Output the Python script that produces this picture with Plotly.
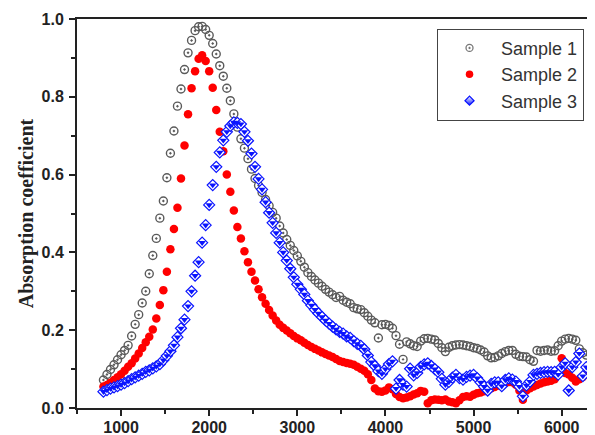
import plotly.graph_objects as go

wavelength = [
    800, 840, 880, 920, 960, 1000, 1040, 1080, 1120, 1160, 1200, 1240, 1280, 1320, 1360, 1400,
    1440, 1480, 1520, 1560, 1600, 1640, 1680, 1720, 1760, 1800, 1840, 1880, 1920, 1960, 2000, 2040,
    2080, 2120, 2160, 2200, 2240, 2280, 2320, 2360, 2400, 2440, 2480, 2520, 2560, 2600, 2640, 2680,
    2720, 2760, 2800, 2840, 2880, 2920, 2960, 3000, 3040, 3080, 3120, 3160, 3200, 3240, 3280, 3320,
    3360, 3400, 3440, 3480, 3520, 3560, 3600, 3640, 3680, 3720, 3760, 3800, 3840, 3880, 3920, 3960,
    4000, 4040, 4080, 4120, 4160, 4200, 4240, 4280, 4320, 4360, 4400, 4440, 4480, 4520, 4560, 4600,
    4640, 4680, 4720, 4760, 4800, 4840, 4880, 4920, 4960, 5000, 5040, 5080, 5120, 5160, 5200, 5240,
    5280, 5320, 5360, 5400, 5440, 5480, 5520, 5560, 5600, 5640, 5680, 5720, 5760, 5800, 5840, 5880,
    5920, 5960, 6000, 6040, 6080, 6120, 6160, 6200, 6240, 6280,
]

sample1 = [
    .072, .086, .099, .111, .124, .137, .148, .161, .185, .215, .240, .270, .300, .345, .392, .436,
    .488, .532, .592, .655, .712, .776, .820, .870, .913, .945, .970, .980, .981, .973, .958, .937,
    .910, .880, .853, .822, .790, .756, .722, .692, .668, .641, .614, .590, .572, .554, .536, .520,
    .503, .488, .468, .450, .433, .418, .405, .391, .377, .362, .348, .338, .329, .321, .313, .305,
    .298, .291, .284, .287, .277, .272, .268, .258, .255, .253, .245, .236, .226, .219, .180, .214,
    .215, .212, .205, .186, .164, .125, .170, .165, .160, .158, .172, .178, .179, .177, .175, .166,
    .155, .145, .156, .160, .162, .163, .162, .160, .158, .155, .153, .149, .144, .134, .129, .130,
    .134, .140, .145, .148, .148, .138, .133, .132, .131, .124, .120, .148, .146, .148, .149, .146,
    .147, .160, .172, .177, .179, .177, .174, .152, .142, .136,
]

sample2 = [
    .055, .059, .065, .072, .079, .087, .096, .106, .115, .127, .140, .154, .169, .183, .202, .230,
    .265, .303, .350, .408, .460, .515, .590, .675, .755, .822, .866, .898, .907, .892, .866, .823,
    .766, .710, .660, .600, .556, .508, .465, .436, .403, .375, .350, .328, .305, .285, .268, .252,
    .238, .225, .214, .206, .199, .192, .185, .179, .174, .168, .162, .157, .152, .148, .143, .139,
    .135, .131, .126, .121, .118, .116, .114, .111, .106, .101, .096, .087, .072, .050, .043, .042,
    .045, .053, .048, .036, .028, .025, .027, .030, .035, .038, .044, .042, .012, .020, .022, .021,
    .020, .022, .017, .015, .012, .020, .028, .030, .029, .034, .038, .040, .043, .048, .051, .054,
    .058, .061, .064, .067, .066, .060, .045, .021, .045, .051, .055, .059, .063, .066, .068, .070,
    .074, .095, .128, .090, .086, .078, .068, .074, .080, .086,
]

sample3 = [
    .042, .046, .050, .053, .056, .060, .064, .069, .074, .079, .083, .088, .093, .097, .102, .107,
    .113, .123, .134, .146, .161, .182, .205, .227, .262, .300, .340, .375, .425, .470, .522, .573,
    .620, .657, .688, .710, .725, .734, .733, .730, .710, .687, .654, .620, .589, .562, .529, .502,
    .476, .450, .425, .400, .379, .358, .336, .318, .305, .292, .276, .264, .253, .243, .234, .225,
    .217, .209, .202, .196, .191, .184, .180, .172, .165, .160, .151, .135, .118, .108, .095, .088,
    .100, .113, .120, .050, .072, .060, .055, .101, .084, .090, .106, .112, .115, .108, .100, .092,
    .075, .060, .067, .078, .085, .077, .073, .080, .083, .085, .077, .066, .055, .045, .062, .066,
    .066, .056, .072, .076, .073, .068, .055, .030, .058, .068, .085, .088, .090, .092, .093, .092,
    .093, .086, .105, .115, .045, .105, .118, .140, .082, .105,
]

series_names = ["Sample 1", "Sample 2", "Sample 3"]
x_tick_values = [1000, 2000, 3000, 4000, 5000, 6000]
y_tick_values = [0.0, 0.2, 0.4, 0.6, 0.8, 1.0]
y_title = "Absorption coefficient"

GRAY = "#5a5a5a"
RED = "#ff0000"
BLUE = "#0a14ff"

fig = go.Figure()

# data traces
fig.add_trace(go.Scatter(
    x=wavelength, y=sample1, mode="markers", name=series_names[0],
    legendgroup="s1", showlegend=False,
    marker=dict(symbol="circle-open-dot", size=8, color=GRAY, line=dict(width=1.4, color=GRAY)),
))
fig.add_trace(go.Scatter(
    x=wavelength, y=sample2, mode="markers", name=series_names[1],
    legendgroup="s2", showlegend=False,
    marker=dict(symbol="circle", size=8.5, color=RED, line=dict(width=0)),
))
# Sample 3: half-filled diamond = white diamond with blue outline + blue lower part
fig.add_trace(go.Scatter(
    x=wavelength, y=sample3, mode="markers", name=series_names[2],
    legendgroup="s3", showlegend=False,
    marker=dict(symbol="diamond", size=8.5, color="#ffffff", line=dict(width=1.2, color=BLUE)),
))
fig.add_trace(go.Scatter(
    x=wavelength, y=sample3, mode="markers", name=series_names[2],
    legendgroup="s3", showlegend=False, hoverinfo="skip",
    marker=dict(symbol="triangle-down", size=6.5, color=BLUE, line=dict(width=0)),
))

# legend keys (no data points of their own; smaller symbols as in the reference legend)
fig.add_trace(go.Scatter(
    x=[None], y=[None], mode="markers", name=series_names[0], legendgroup="s1",
    marker=dict(symbol="circle-open-dot", size=7, color="#777777", line=dict(width=1.3, color="#777777")),
))
fig.add_trace(go.Scatter(
    x=[None], y=[None], mode="markers", name=series_names[1], legendgroup="s2",
    marker=dict(symbol="circle", size=7.5, color=RED, line=dict(width=0)),
))
fig.add_trace(go.Scatter(
    x=[None], y=[None], mode="markers", name=series_names[2], legendgroup="s3",
    marker=dict(symbol="diamond", size=7, color="#ffffff",
                gradient=dict(type="vertical", color=BLUE),
                line=dict(width=1.2, color=BLUE)),
))

tick_font = dict(family="Liberation Sans, Arial", size=16, color="#222222", weight="bold")

# The page body adds an 8 px offset; the figure is sized so the plot lands where the reference has it.
fig.update_layout(
    width=587, height=427,
    margin=dict(l=69, r=0, t=11, b=27, autoexpand=False),
    paper_bgcolor="white", plot_bgcolor="white",
    showlegend=True,
    legend=dict(
        x=0.695, y=0.975, xanchor="left", yanchor="top",
        bgcolor="white", bordercolor="#444444", borderwidth=1,
        font=dict(family="Liberation Sans, Arial", size=18, color="#333333"),
        tracegroupgap=0, itemsizing="trace", itemwidth=53,
    ),
    xaxis=dict(
        range=[500, 6378], tickmode="array", tickvals=x_tick_values,
        automargin=False,
        showgrid=False, zeroline=False,
        showline=True, linecolor="#222222", linewidth=2, mirror=True,
        ticks="outside", ticklen=6, tickwidth=2, tickcolor="#222222",
        ticklabelstandoff=-2,
        minor=dict(ticks="outside", ticklen=4, tickwidth=2, tickcolor="#222222", dtick=500, tick0=500),
        tickfont=tick_font,
    ),
    yaxis=dict(
        range=[0, 1.0], tickmode="array", tickvals=y_tick_values,
        automargin=False,
        tickformat=".1f",
        showgrid=False, zeroline=False,
        showline=True, linecolor="#222222", linewidth=2, mirror=False,
        ticks="outside", ticklen=6, tickwidth=2, tickcolor="#222222",
        ticklabelstandoff=2,
        minor=dict(ticks="outside", ticklen=4, tickwidth=2, tickcolor="#222222", dtick=0.1, tick0=0),
        tickfont=tick_font,
        title=dict(text=y_title, standoff=3,
                   font=dict(family="Liberation Serif, Times New Roman", size=20, color="#222222", weight="bold")),
    ),
)

fig.write_html("out.html")
